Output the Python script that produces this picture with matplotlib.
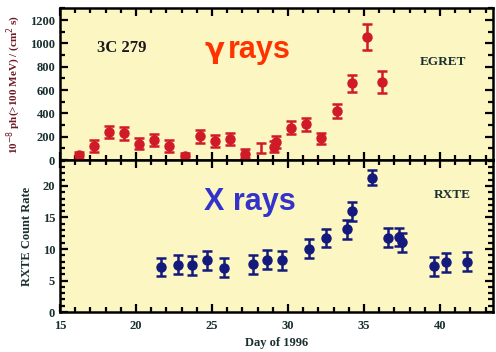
import matplotlib
matplotlib.use("Agg")
import matplotlib.pyplot as plt
from matplotlib.ticker import MultipleLocator

# EGRET gamma-ray flux (10^-8 ph(>100 MeV)/(cm^2 s))
egret_day = [16.25, 17.25, 18.2, 19.2, 20.2, 21.2, 22.2, 23.2, 24.2, 25.2, 26.2, 27.2,
             29.1, 29.2, 30.2, 31.2, 32.2, 33.2, 34.2, 35.2, 36.2]
egret_flux = [42, 122, 241, 229, 142, 172, 124, 34, 206, 162, 179, 57,
              115, 155, 277, 309, 186, 421, 658, 1053, 672]
egret_err = [30, 50, 55, 55, 45, 50, 50, 30, 55, 50, 50, 35,
             45, 50, 55, 55, 50, 60, 70, 110, 95]
# upper-limit style bar without marker
egret_bar_day = [28.2]
egret_bar_flux = [103]
egret_bar_err = [45]

# RXTE count rate
rxte_day = [21.62, 22.74, 23.7, 24.7, 25.8, 27.7, 28.6, 29.6, 31.4, 32.5,
            33.9, 34.2, 35.5, 36.6, 37.3, 37.5, 39.6, 40.4, 41.8]
rxte_rate = [7.15, 7.5, 7.4, 8.2, 7.05, 7.55, 8.3, 8.2, 10.05, 11.75,
             13.1, 16.0, 21.3, 11.8, 11.9, 11.1, 7.25, 7.9, 8.0]
rxte_err = [1.5, 1.5, 1.5, 1.5, 1.5, 1.5, 1.5, 1.5, 1.5, 1.5,
            1.5, 1.5, 1.2, 1.5, 1.5, 1.5, 1.5, 1.5, 1.5]

xticks = [15, 20, 25, 30, 35, 40]
egret_yticks = [0, 200, 400, 600, 800, 1000, 1200]
rxte_yticks = [0, 5, 10, 15, 20]

BG = "#fbf6c2"
RED = "#d11a28"
NAVY = "#141a7c"
TICKC = "#1a2f2f"
SERIF = "Liberation Serif"

fig = plt.figure(figsize=(4.96, 3.52), dpi=100)
ax1 = fig.add_axes([0.121, 0.545, 0.872, 0.431])
ax2 = fig.add_axes([0.121, 0.1136, 0.872, 0.4314], sharex=ax1)

for ax in (ax1, ax2):
    ax.set_facecolor(BG)
    for s in ax.spines.values():
        s.set_linewidth(1.8)
        s.set_color("black")
    ax.tick_params(which="both", direction="in", top=True, right=True,
                   width=1.6, colors="black", labelcolor=TICKC,
                   labelsize=9)
    ax.tick_params(which="major", length=6)
    ax.tick_params(which="minor", length=3.5)
    ax.xaxis.set_minor_locator(MultipleLocator(1))

ax1.set_xlim(15, 43.45)
ax1.set_xticks(xticks)
ax1.set_ylim(0, 1300)
ax1.set_yticks(egret_yticks)
ax1.yaxis.set_minor_locator(MultipleLocator(100))
ax1.tick_params(labelbottom=False)

ax2.set_ylim(0, 24.1)
ax2.set_yticks(rxte_yticks)
ax2.yaxis.set_minor_locator(MultipleLocator(1))
ax2.tick_params(axis="x", pad=6)

for ax in (ax1, ax2):
    for lab in ax.get_xticklabels() + ax.get_yticklabels():
        lab.set_fontfamily(SERIF)
        lab.set_fontweight("bold")

ax1.errorbar(egret_day, egret_flux, yerr=egret_err, fmt="o", color=RED,
             ms=6.5, elinewidth=1.8, capsize=3.5, capthick=1.8, zorder=3)
ax1.errorbar(egret_bar_day, egret_bar_flux, yerr=egret_bar_err, fmt="none",
             ecolor=RED, elinewidth=1.8, capsize=3.5, capthick=1.8, zorder=3)
ax2.errorbar(rxte_day, rxte_rate, yerr=rxte_err, fmt="o", color=NAVY,
             ms=6.5, elinewidth=1.8, capsize=3.5, capthick=1.8, zorder=3)

ax1.set_ylabel(r"10$^{-8}$ ph(>100 MeV) / (cm$^2$ s)", fontfamily=SERIF,
               fontweight="bold", fontsize=8, color="#6e1a26", labelpad=5)
ax2.set_ylabel("RXTE Count Rate", fontfamily=SERIF, fontweight="bold",
               fontsize=9, color=TICKC, labelpad=7)
ax2.set_xlabel("Day of 1996", fontfamily=SERIF, fontweight="bold",
               fontsize=9, color=TICKC, labelpad=3)

ax1.text(0.085, 0.74, "3C 279", transform=ax1.transAxes, fontfamily=SERIF,
         fontweight="bold", fontsize=12, color="#1a1a1a", va="center")
ax1.text(0.831, 0.645, "EGRET", transform=ax1.transAxes, fontfamily=SERIF,
         fontweight="bold", fontsize=9.5, color=TICKC, va="center")
ax2.text(0.865, 0.77, "RXTE", transform=ax2.transAxes, fontfamily=SERIF,
         fontweight="bold", fontsize=9.5, color=TICKC, va="center")

ax1.text(0.333, 0.674, "γ", transform=ax1.transAxes, fontfamily="DejaVu Sans",
         fontweight="bold", fontsize=21, color="#ff3300", va="baseline")
ax1.text(0.387, 0.674, "rays", transform=ax1.transAxes,
         fontfamily="Liberation Sans", fontweight="bold", fontsize=22,
         color="#ff3300", va="baseline")
ax2.text(0.333, 0.671, "X rays", transform=ax2.transAxes,
         fontfamily="Liberation Sans", fontweight="bold", fontsize=22,
         color="#3333cc", va="baseline")

fig.savefig("out.png", dpi=100)
